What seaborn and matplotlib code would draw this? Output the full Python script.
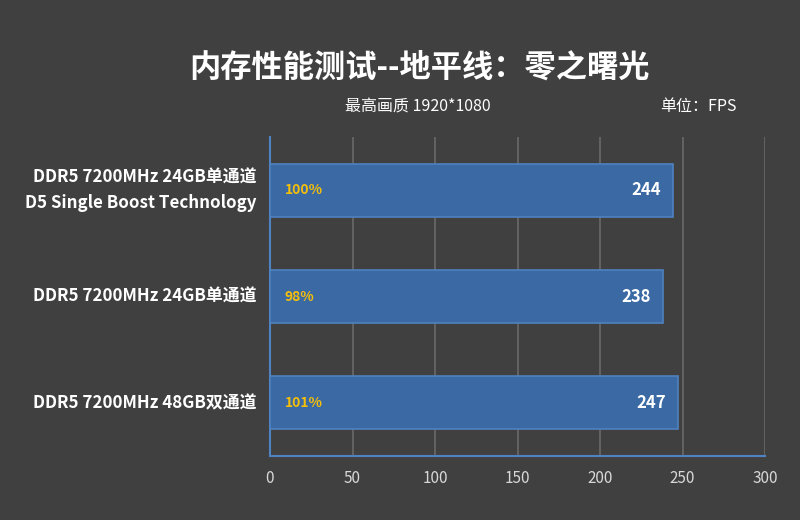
import matplotlib
matplotlib.use("Agg")
import matplotlib.pyplot as plt
import seaborn as sns
import pandas as pd

configs = ["DDR5 7200MHz 24GB单通道\nD5 Single Boost Technology",
           "DDR5 7200MHz 24GB单通道",
           "DDR5 7200MHz 48GB双通道"]
fps = [244, 238, 247]
percent = ["100%", "98%", "101%"]
ticks = [0, 50, 100, 150, 200, 250, 300]

sns.set_style("dark")
plt.rcParams['font.family'] = ['Noto Sans CJK SC', 'DejaVu Sans']

bg = "#404040"
df = pd.DataFrame({"config": configs, "fps": fps})

fig = plt.figure(figsize=(8, 5.2), dpi=100, facecolor=bg)
ax = fig.add_axes([0.3375, 0.123, 0.6188, 0.6135])
ax.set_facecolor(bg)

sns.barplot(data=df, x="fps", y="config", orient="h", color="#3a69a4",
            width=0.5, edgecolor="#4f82c0", linewidth=1.2, saturation=1, ax=ax, zorder=3)

ax.set_xlim(0, 300)
ax.set_ylim(2.5, -0.5)
ax.set_xticks(ticks)
ax.grid(axis="x", color="#6a6a6a", linewidth=1.2, zorder=0)
ax.grid(axis="y", visible=False)
for s in ["top", "right"]:
    ax.spines[s].set_visible(False)
ax.spines["left"].set_color("#4f82c0")
ax.spines["bottom"].set_color("#4f82c0")
ax.spines["left"].set_linewidth(1.5)
ax.spines["bottom"].set_linewidth(1.5)
ax.set_xlabel("")
ax.set_ylabel("")
ax.tick_params(axis="x", colors="#d8d8d8", labelsize=11, length=0, pad=10)
ax.tick_params(axis="y", length=0)
ax.set_yticklabels([])
for i, name in enumerate(configs):
    ax.annotate(name, xy=(0, i), xycoords=("axes fraction", "data"),
                xytext=(-10, 0), textcoords="offset points",
                color="white", fontsize=12.2, fontweight="bold",
                ha="right", va="center", linespacing=1.5)

for i, (v, p) in enumerate(zip(fps, percent)):
    ax.text(9, i, p, color="#f5bf0a", fontsize=10, fontweight="bold",
            va="center", ha="left", zorder=4)
    ax.text(v - 7, i, str(v), color="white", fontsize=12, fontweight="bold",
            va="center", ha="right", zorder=4)

fig.text(0.525, 0.87, "内存性能测试--地平线：零之曙光", color="white",
         fontsize=22.5, fontweight="bold", ha="center", va="center")
fig.text(0.431, 0.795, "最高画质 1920*1080", color="white", fontsize=11.5,
         ha="left", va="center")
fig.text(0.825, 0.795, "单位：FPS", color="white", fontsize=11.5,
         ha="left", va="center")

fig.savefig("out.png", dpi=100, facecolor=bg)
